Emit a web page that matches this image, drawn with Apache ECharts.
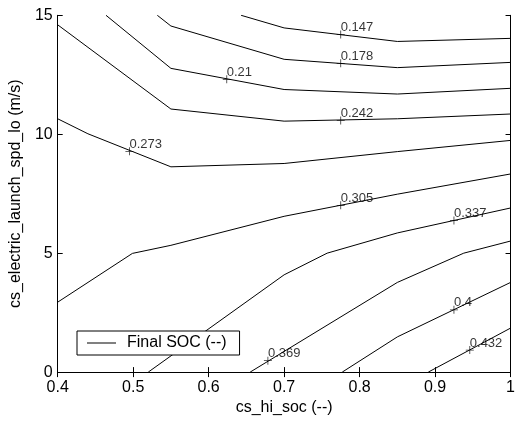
<!DOCTYPE html>
<html>
<head>
<meta charset="utf-8">
<script src="https://cdn.jsdelivr.net/npm/echarts@6/dist/echarts.min.js"></script>
<style>html,body{margin:0;padding:0;background:#fff;}#chart{width:518px;height:421px;}</style>
</head>
<body>
<div id="chart"></div>
<script>
// Contour levels (labels) and polylines: [cs_hi_soc, cs_electric_launch_spd_lo]
const levelLabels = ['0.147', '0.178', '0.21', '0.242', '0.273', '0.305', '0.337', '0.369', '0.4', '0.432'];
const c147 = [[0.643, 15], [0.7, 14.47], [0.85, 13.90], [1.0, 14.03]];
const c178 = [[0.532, 15], [0.55, 14.55], [0.7, 13.15], [0.85, 12.8], [1.0, 13.02]];
const c210 = [[0.464, 15], [0.55, 12.77], [0.7, 11.88], [0.85, 11.69], [1.0, 11.93]];
const c242 = [[0.4, 14.6], [0.55, 11.06], [0.7, 10.55], [0.85, 10.65], [1.0, 10.85]];
const c273 = [[0.4, 10.65], [0.44, 10.02], [0.55, 8.63], [0.7, 8.77], [0.85, 9.27], [1.0, 9.74]];
const c305 = [[0.4, 2.94], [0.499, 4.99], [0.55, 5.33], [0.7, 6.55], [0.85, 7.48], [1.0, 8.33]];
const c337 = [[0.52, 0], [0.7, 4.09], [0.757, 5.0], [0.85, 5.85], [1.0, 6.9]];
const c369 = [[0.655, 0], [0.85, 3.77], [0.938, 5.0], [1.0, 5.51]];
const c400 = [[0.777, 0], [0.85, 1.48], [1.0, 3.77]];
const c432 = [[0.891, 0], [1.0, 1.85]];
const contours = [c147, c178, c210, c242, c273, c305, c337, c369, c400, c432];

// Label marker positions ("+") for each level
const labelX = [0.775, 0.775, 0.624, 0.775, 0.495, 0.775, 0.925, 0.6785, 0.925, 0.946];
const labelY = [14.19, 12.98, 12.31, 10.575, 9.28, 7.01, 6.37, 0.48, 2.62, 0.925];

// Tick labels
const xTicks = [0.4, 0.5, 0.6, 0.7, 0.8, 0.9, 1.0];
const xTickLabels = ['0.4', '0.5', '0.6', '0.7', '0.8', '0.9', '1'];
const yTicks = [0, 5, 10, 15];
const yTickLabels = ['0', '5', '10', '15'];

const seriesName = 'Final SOC (--)';
const FONT = 'Liberation Sans, Arial, Helvetica, sans-serif';

function tickLabel(ticks, labels) {
  return function (v) {
    for (let i = 0; i < ticks.length; i++) {
      if (Math.abs(ticks[i] - v) < 1e-6) return labels[i];
    }
    return '';
  };
}

const chart = echarts.init(document.getElementById('chart'), null, { renderer: 'canvas' });

const series = contours.map(function (pts) {
  return {
    type: 'line',
    name: seriesName,
    data: pts,
    symbol: 'none',
    showSymbol: false,
    silent: true,
    animation: false,
    lineStyle: { color: '#000', width: 1 },
    itemStyle: { color: '#000' },
    z: 2
  };
});

series.push({
  type: 'scatter',
  name: 'labels',
  data: labelX.map(function (x, i) { return [x, labelY[i], levelLabels[i]]; }),
  symbol: 'path://M3.6,0h0.8v8h-0.8zM0,3.6h8v0.8h-8z',
  symbolSize: 8,
  itemStyle: { color: '#000' },
  silent: true,
  animation: false,
  label: {
    show: true,
    formatter: function (p) { return p.value[2]; },
    position: [4, -3],
    align: 'left',
    verticalAlign: 'middle',
    color: '#000',
    fontFamily: FONT,
    fontSize: 13
  },
  z: 3
});

const axisCommon = {
  type: 'value',
  axisLine: { show: true, lineStyle: { color: '#000', width: 1 } },
  axisTick: { show: true, inside: true, length: 5, lineStyle: { color: '#000', width: 1 } },
  splitLine: { show: false },
  minorTick: { show: false }
};

chart.setOption({
  animation: false,
  backgroundColor: '#fff',
  grid: { left: 57.5, right: 2.7, top: 15.3, bottom: 45.5, containLabel: false },
  legend: {
    data: [{ name: seriesName, icon: 'path://M0,0h29v1h-29z' }],
    left: 77,
    top: 331,
    orient: 'horizontal',
    backgroundColor: '#fff',
    borderColor: '#000',
    borderWidth: 1,
    borderRadius: 0,
    padding: [4, 13, 4, 10],
    itemWidth: 29,
    itemHeight: 1,
    selectedMode: false,
    itemStyle: { color: '#000', borderWidth: 0 },
    textStyle: { color: '#000', fontFamily: FONT, fontSize: 16, padding: [0, 0, 0, 6] },
    z: 10
  },
  xAxis: [
    Object.assign({}, axisCommon, {
      position: 'bottom', min: 0.4, max: 1.0, interval: 0.1,
      name: 'cs_hi_soc (--)', nameLocation: 'middle', nameGap: 24,
      nameTextStyle: { color: '#000', fontFamily: FONT, fontSize: 16 },
      axisLabel: { color: '#000', fontFamily: FONT, fontSize: 16, margin: 7, formatter: tickLabel(xTicks, xTickLabels) }
    }),
    Object.assign({}, axisCommon, {
      position: 'top', min: 0.4, max: 1.0, interval: 0.1,
      axisLabel: { show: false }
    })
  ],
  yAxis: [
    Object.assign({}, axisCommon, {
      position: 'left', min: 0, max: 15, interval: 5,
      name: 'cs_electric_launch_spd_lo (m/s)', nameLocation: 'middle', nameGap: 28,
      nameTextStyle: { color: '#000', fontFamily: FONT, fontSize: 16 },
      axisLabel: { color: '#000', fontFamily: FONT, fontSize: 16, margin: 5, formatter: tickLabel(yTicks, yTickLabels) }
    }),
    Object.assign({}, axisCommon, {
      position: 'right', min: 0, max: 15, interval: 5,
      axisLabel: { show: false }
    })
  ],
  series: series
});
</script>
</body>
</html>
